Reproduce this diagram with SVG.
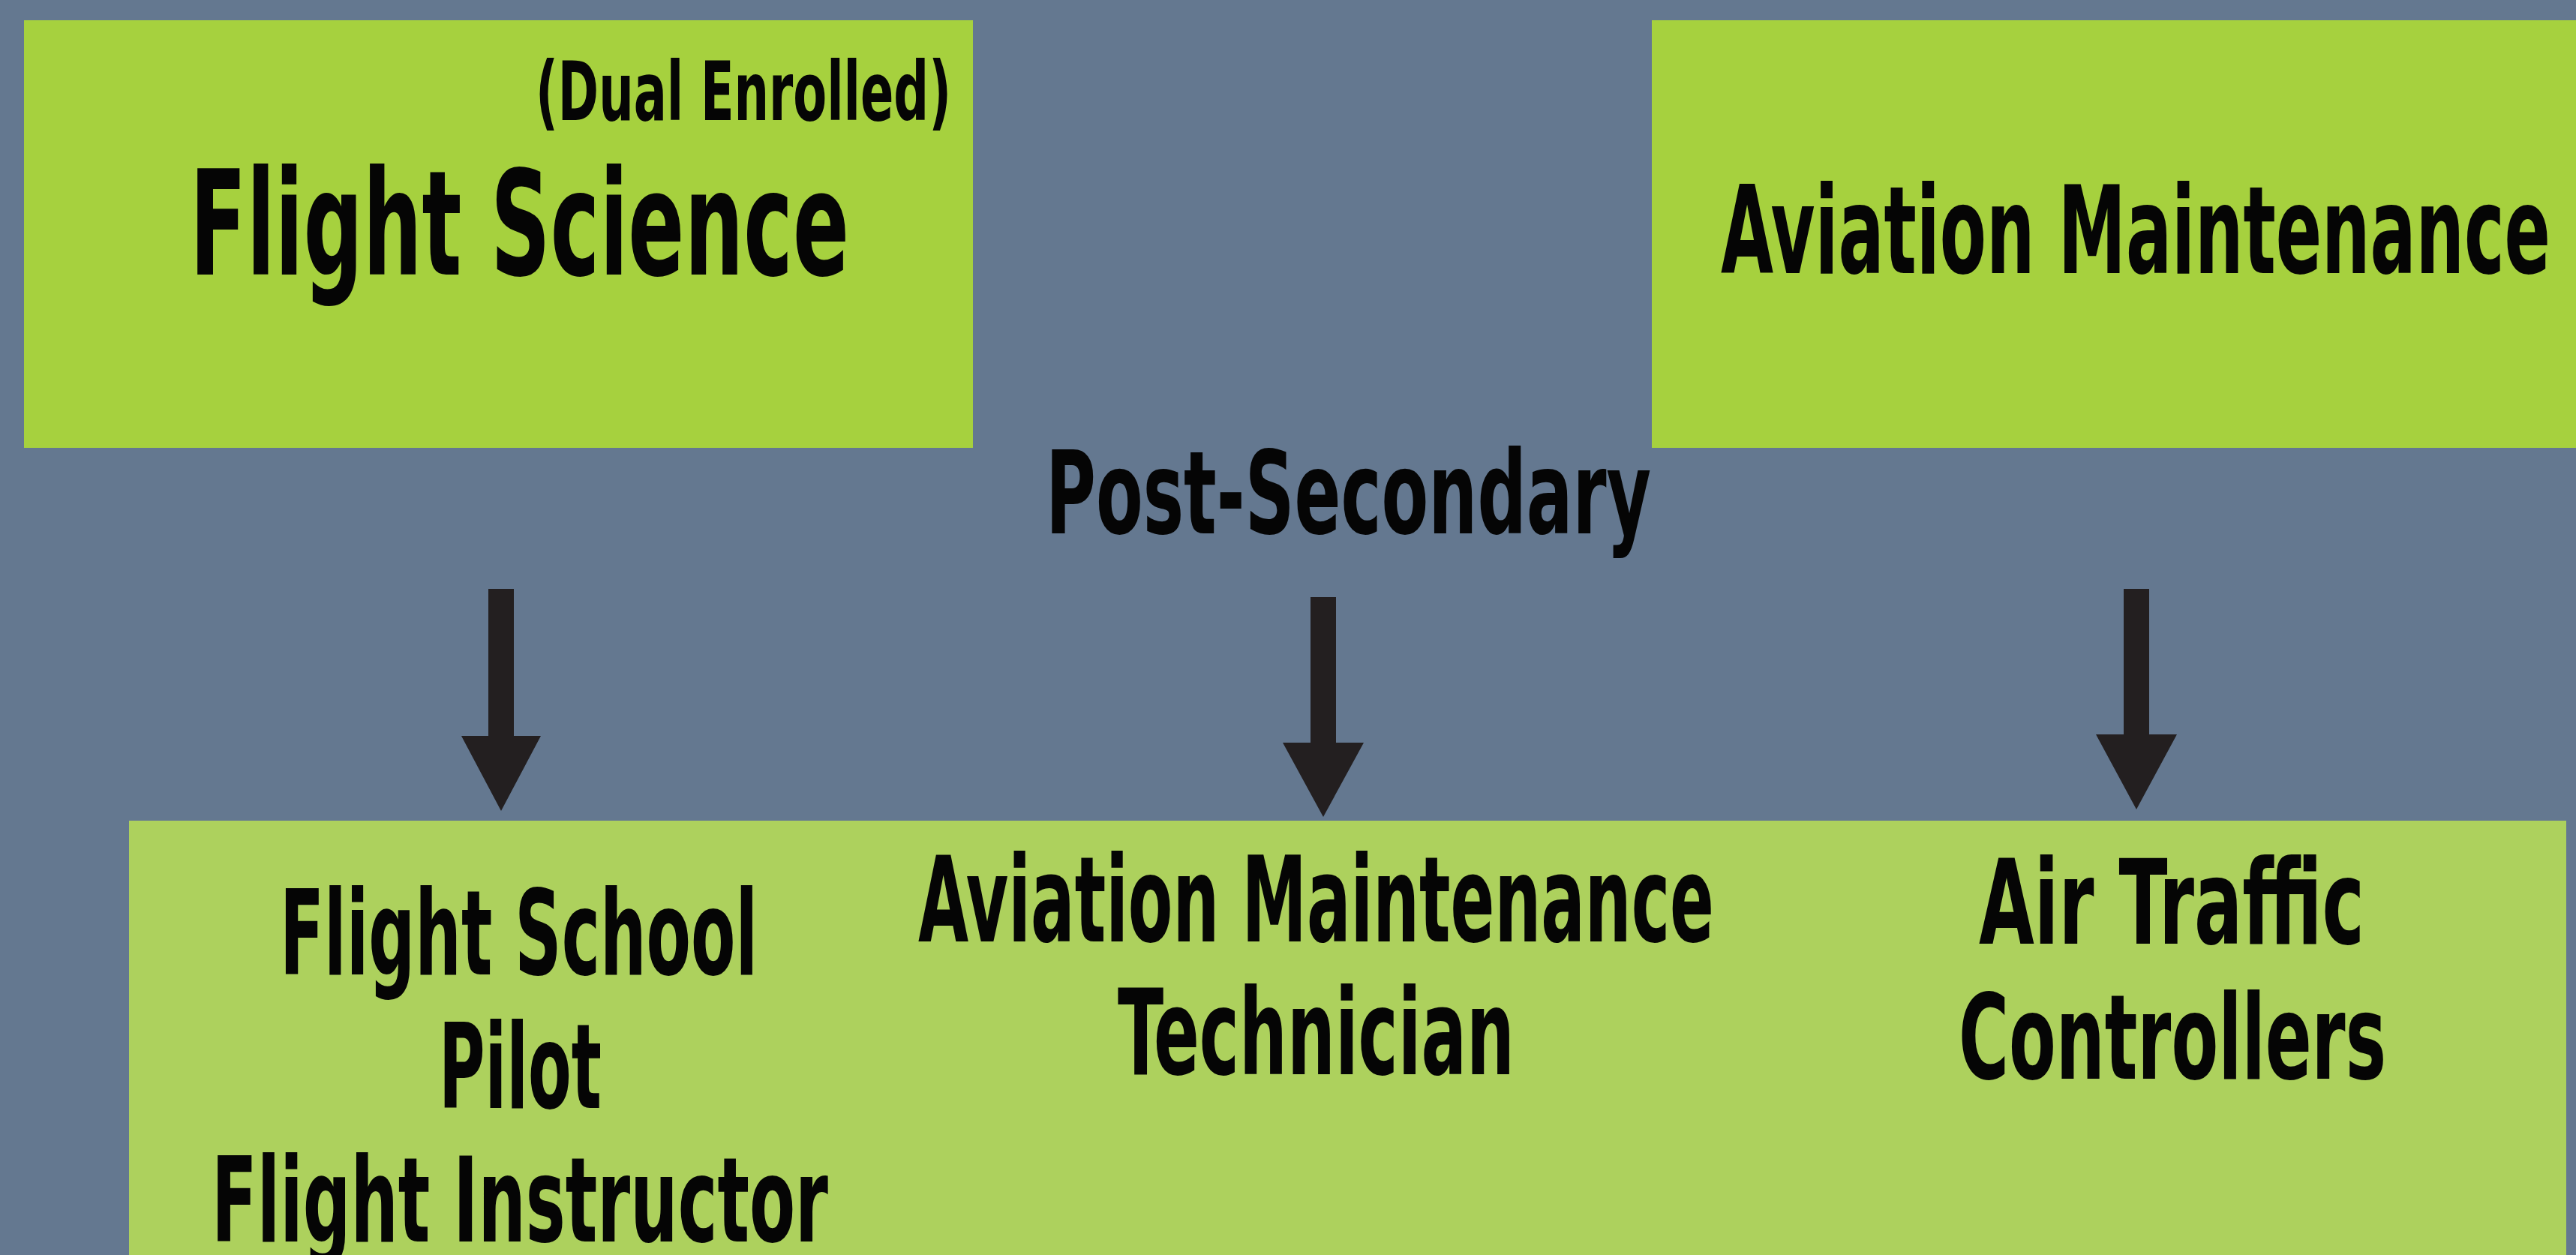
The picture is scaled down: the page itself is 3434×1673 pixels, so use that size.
<svg xmlns="http://www.w3.org/2000/svg" width="3434" height="1673" viewBox="0 0 3434 1673">
<style>
.bg{fill:#647890}
.top{fill:#A6D13E}
.bot{fill:#ADD15D}
.t{font-family:'DejaVu Sans Condensed','DejaVu Sans',sans-serif;font-stretch:condensed;font-weight:bold;fill:#050505}
.arr{fill:#231F20}
</style>
<rect class="bg" x="0" y="0" width="3434" height="1673"/>
<g id="flight-science">
<rect class="top" x="32" y="27" width="1265" height="570"/>
<text class="t" x="714" y="160" font-size="108" textLength="554" lengthAdjust="spacingAndGlyphs">(Dual Enrolled)</text>
<text class="t" x="253" y="366" font-size="195" textLength="879" lengthAdjust="spacingAndGlyphs">Flight Science</text>
</g>
<g id="aviation-maintenance">
<rect class="top" x="2202" y="27" width="1232" height="570"/>
<text class="t" x="2294" y="364" font-size="163" textLength="1106" lengthAdjust="spacingAndGlyphs">Aviation Maintenance</text>
</g>
<g id="post-secondary">
<text class="t" x="1394" y="711" font-size="154" textLength="807" lengthAdjust="spacingAndGlyphs">Post-Secondary</text>
</g>
<g id="careers">
<rect class="bot" x="172" y="1094" width="3249" height="590"/>
<text class="t" x="373" y="1299" font-size="157" textLength="637" lengthAdjust="spacingAndGlyphs">Flight School</text>
<text class="t" x="585" y="1477" font-size="157" textLength="217" lengthAdjust="spacingAndGlyphs">Pilot</text>
<text class="t" x="282" y="1655" font-size="157" textLength="822" lengthAdjust="spacingAndGlyphs">Flight Instructor</text>
<text class="t" x="1224" y="1255" font-size="159" textLength="1061" lengthAdjust="spacingAndGlyphs">Aviation Maintenance</text>
<text class="t" x="1490" y="1432" font-size="159" textLength="529" lengthAdjust="spacingAndGlyphs">Technician</text>
<text class="t" x="2638" y="1258" font-size="157" textLength="514" lengthAdjust="spacingAndGlyphs">Air Traffic</text>
<text class="t" x="2611" y="1438" font-size="157" textLength="570" lengthAdjust="spacingAndGlyphs">Controllers</text>
</g>
<g id="connectors">
<path class="arr" d="M651,785 H685 V981 H721 L668,1081 L615,981 H651 Z"/>
<path class="arr" d="M1747,796 H1781 V990 H1818 L1764,1089 L1710,990 H1747 Z"/>
<path class="arr" d="M2831,785 H2865 V979 H2902 L2848,1079 L2794,979 H2831 Z"/>
</g>
</svg>
